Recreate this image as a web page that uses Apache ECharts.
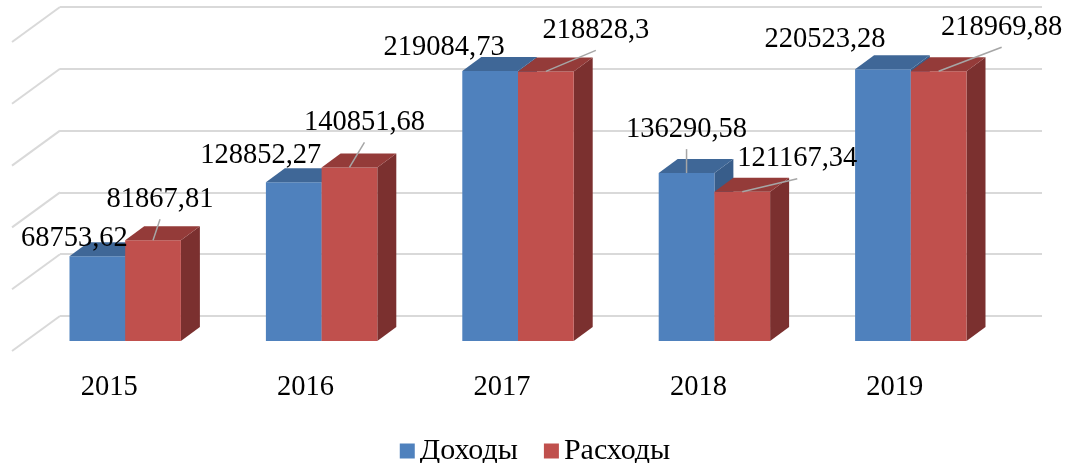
<!DOCTYPE html>
<html>
<head>
<meta charset="utf-8">
<script src="https://cdn.jsdelivr.net/npm/echarts@6/dist/echarts.min.js"></script>
<style>
  html, body { margin: 0; padding: 0; background: #fff; }
  #chart { width: 1070px; height: 463px; }
</style>
</head>
<body>
<div id="chart"></div>
<script>
// данные
const years = ['2015', '2016', '2017', '2018', '2019'];
const incomes = [68753.62, 128852.27, 219084.73, 136290.58, 220523.28];
const expenses = [81867.81, 140851.68, 218828.3, 121167.34, 218969.88];
const wallTicks = [0, 50000, 100000, 150000, 200000, 250000];

// смещения подписей относительно верха столбца: [dx, dy, выноска]
const incomeLabelPos = [[-23, -18, false], [-33, -27, false], [-46, -24, false], [0, -44, true], [-58, -30, false]];
const expenseLabelPos = [[7, -41, true], [15, -45, true], [50, -41, true], [55, -33, true], [63, -44, true]];

const FONT = '"Liberation Serif", "Times New Roman", serif';
const BAR_W = 55.7;
const DEPTH_X = 19;
const DEPTH_Y = 14;

function fmt(v) {
  return String(v).replace('.', ',');
}

function barRenderer(side, colors, labelPos) {
  return function (params, api) {
    const idx = api.value(0);
    const val = api.value(1);
    const top = api.coord([idx, val]);
    const base = api.coord([idx, 0]);
    const x0 = side === 0 ? top[0] - BAR_W : top[0];
    const ty = top[1];
    const by = base[1];
    const x1 = x0 + BAR_W;
    const lp = labelPos[params.dataIndex];
    const cx = x0 + BAR_W / 2;
    const lx = cx + lp[0];
    const ly = ty + lp[1];
    const children = [
      {
        type: 'polygon',
        shape: { points: [[x1, ty], [x1, by], [x1 + DEPTH_X, by - DEPTH_Y], [x1 + DEPTH_X, ty - DEPTH_Y]] },
        style: { fill: colors.side }
      },
      {
        type: 'rect',
        shape: { x: x0, y: ty, width: BAR_W, height: by - ty },
        style: { fill: colors.front }
      },
      {
        type: 'polygon',
        shape: { points: [[x0, ty], [x1, ty], [x1 + DEPTH_X, ty - DEPTH_Y], [x0 + DEPTH_X, ty - DEPTH_Y]] },
        style: { fill: colors.top }
      }
    ];
    if (lp[2]) {
      children.push({
        type: 'line',
        shape: { x1: cx, y1: ty, x2: lx, y2: ly + 20 },
        style: { stroke: '#a6a6a6', lineWidth: 1.5 },
        z2: 5
      });
    }
    children.push({
      type: 'text',
      x: lx,
      y: ly,
      style: {
        text: fmt(val),
        fill: '#000',
        font: '28.5px ' + FONT,
        align: 'center',
        verticalAlign: 'middle'
      },
      z2: 10
    });
    return { type: 'group', children: children };
  };
}

const chart = echarts.init(document.getElementById('chart'));

const option = {
  animation: false,
  backgroundColor: '#fff',
  legend: {
    data: ['Доходы', 'Расходы'],
    left: 'center',
    top: 431,
    icon: 'rect',
    itemWidth: 15,
    itemHeight: 15,
    itemGap: 26,
    textStyle: { fontFamily: FONT, fontSize: 30, color: '#000' }
  },
  grid: [
    // задняя стенка
    { left: 60, right: 28, top: 7, bottom: 147 },
    // передняя плоскость столбцов
    { left: 27, right: 61, top: 33, bottom: 122 },
    // передний край пола (подписи лет)
    { left: 11, right: 77, top: 44, bottom: 111 }
  ],
  xAxis: [
    { gridIndex: 0, type: 'category', data: years, show: false },
    { gridIndex: 1, type: 'category', data: years, show: false },
    {
      gridIndex: 2, type: 'category', data: years,
      axisLine: { show: false }, axisTick: { show: false },
      axisLabel: { fontFamily: FONT, fontSize: 28.5, color: '#000', margin: 21 }
    }
  ],
  yAxis: [
    {
      gridIndex: 0, type: 'value', min: 0, max: 250000, interval: 50000,
      axisLine: { show: false }, axisTick: { show: false }, axisLabel: { show: false },
      splitLine: { lineStyle: { color: '#d9d9d9', width: 2 } }
    },
    {
      gridIndex: 1, type: 'value', min: 0, max: 250000, interval: 50000,
      axisLine: { show: false }, axisTick: { show: false }, axisLabel: { show: false },
      splitLine: { show: false }
    },
    { gridIndex: 2, type: 'value', show: false, min: 0, max: 1 }
  ],
  series: [
    {
      name: 'wall',
      type: 'custom',
      xAxisIndex: 0,
      yAxisIndex: 0,
      silent: true,
      data: wallTicks.map(v => [0, v]),
      renderItem: function (params, api) {
        const y = api.coord([0, api.value(1)])[1];
        const x = params.coordSys.x;
        return {
          type: 'line',
          shape: { x1: x, y1: y, x2: x - 48, y2: y + 35 },
          style: { stroke: '#d9d9d9', lineWidth: 2 }
        };
      }
    },
    {
      name: 'Доходы',
      type: 'custom',
      xAxisIndex: 1,
      yAxisIndex: 1,
      itemStyle: { color: '#4F81BD' },
      data: incomes.map((v, i) => [i, v]),
      renderItem: barRenderer(0, { front: '#4F81BD', top: '#3F6797', side: '#385D8A' }, incomeLabelPos)
    },
    {
      name: 'Расходы',
      type: 'custom',
      xAxisIndex: 1,
      yAxisIndex: 1,
      itemStyle: { color: '#C0504D' },
      data: expenses.map((v, i) => [i, v]),
      renderItem: barRenderer(1, { front: '#C0504D', top: '#943B39', side: '#7B302F' }, expenseLabelPos)
    }
  ]
};

chart.setOption(option);
</script>
</body>
</html>
